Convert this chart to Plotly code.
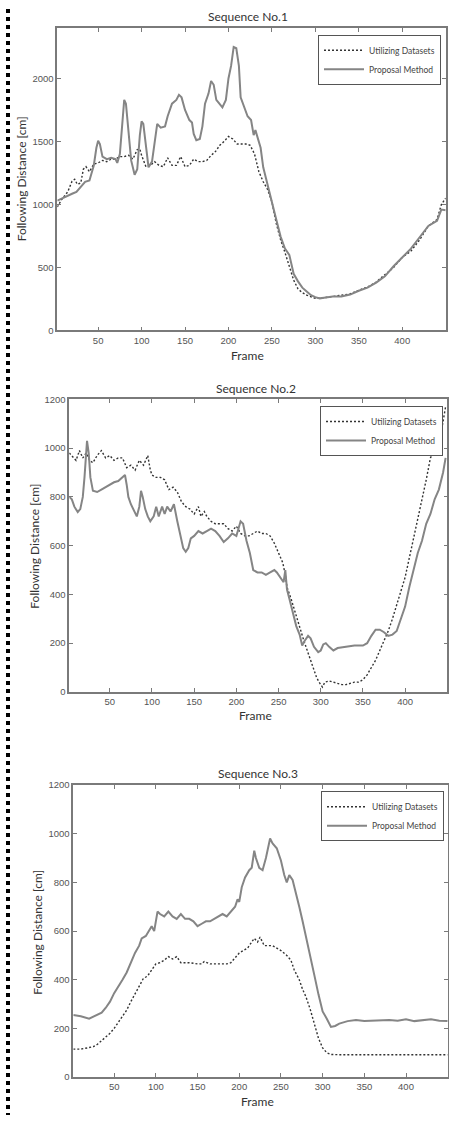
import plotly.graph_objects as go

W, H = 449, 1123

# ---------------- Sequence No.1 ----------------
s1_prop_f = [3, 10, 20, 25, 30, 35, 40, 45, 48, 50, 52, 55, 60, 65, 70, 72, 75, 78, 80, 82, 85, 88, 92, 95, 98, 100,
             102, 105, 108, 112, 115, 118, 122, 127, 130, 135, 140, 143, 146, 150, 155, 158, 160, 163, 167, 170, 173,
             177, 180, 183, 186, 190, 193, 197, 200, 203, 206, 209, 212, 214, 218, 222, 226, 229, 231, 233, 237, 240,
             245, 250, 255, 260, 265, 270, 275, 280, 285, 290, 295, 300, 305, 310, 320, 330, 340, 350, 360, 370, 380,
             390, 400, 410, 420, 430, 440, 445, 450]
s1_prop_v = [1030, 1050, 1085, 1100, 1140, 1180, 1190, 1310, 1450, 1505, 1480, 1380, 1360, 1370, 1360, 1330, 1400, 1700,
             1830, 1800, 1550, 1350, 1236, 1280, 1550, 1660, 1640, 1450, 1295, 1340, 1500, 1640, 1610, 1620, 1700, 1800,
             1830, 1870, 1850, 1750, 1670, 1650, 1560, 1510, 1520, 1620, 1800, 1880, 1980, 1950, 1830, 1800, 1770, 1830,
             2000, 2100, 2250, 2240, 2100, 1850, 1780, 1700, 1670, 1550, 1590, 1540, 1450, 1295, 1150, 1005, 880, 745,
             650, 600, 450, 390, 340, 310, 280, 265, 255, 260, 270, 270, 285, 315, 340, 380, 430, 510, 580, 650, 740,
             830, 870, 960, 955]
s1_data_f = [3, 8, 15, 20, 23, 26, 30, 33, 36, 40, 45, 50, 55, 60, 65, 70, 75, 80, 85, 90, 95, 98, 100, 105, 110, 115,
             120, 125, 130, 135, 140, 145, 150, 155, 160, 165, 170, 175, 180, 185, 190, 195, 200, 205, 210, 215, 220,
             225, 230, 235, 240, 245, 250, 255, 260, 265, 270, 275, 280, 285, 290, 295, 300, 310, 320, 330, 340, 350,
             360, 370, 380, 390, 400, 410, 420, 430, 440, 445, 450]
s1_data_v = [980, 1040, 1100, 1185, 1200, 1160, 1170, 1280, 1300, 1260, 1320, 1330, 1350, 1340, 1360, 1360, 1380, 1380,
             1390, 1360, 1435, 1440, 1390, 1300, 1310, 1340, 1310, 1300, 1370, 1310, 1310, 1380, 1300, 1310, 1360, 1340,
             1340, 1350, 1390, 1420, 1470, 1500, 1540, 1520, 1480, 1480, 1480, 1470, 1400, 1260, 1180, 1120, 1020, 850,
             720, 620, 500, 400, 330, 300, 280, 265, 255, 260, 270, 275, 290, 320, 345, 385, 440, 500, 580, 630, 720,
             830, 880, 1000, 1050]

# ---------------- Sequence No.2 ----------------
s2_prop_f = [2, 5, 8, 12, 15, 18, 20, 22, 23, 25, 27, 30, 35, 40, 45, 50, 55, 60, 65, 68, 70, 72, 75, 80, 82, 85, 87,
             89, 92, 95, 98, 102, 105, 108, 112, 115, 118, 122, 126, 130, 134, 137, 140, 143, 146, 150, 155, 160, 165,
             170, 175, 180, 185, 190, 195, 200, 205, 208, 212, 216, 220, 225, 230, 235, 240, 245, 248, 252, 256, 258,
             260, 263, 267, 271, 275, 278, 281, 285, 288, 292, 297, 300, 303, 306, 310, 315, 320, 330, 340, 350, 355,
             360, 365, 370, 375, 380, 385, 390, 395, 400, 405, 410, 415, 420, 425, 430, 435, 440, 445, 448]
s2_prop_v = [800, 790, 760, 738, 750, 800, 880, 1000, 1030, 980, 880, 825, 820, 830, 840, 850, 860, 865, 880, 890, 850,
             800, 770, 730, 720, 760, 825, 800, 750, 720, 700, 720, 760, 720, 760, 730, 760, 740, 770, 700, 640, 590,
             575, 590, 630, 640, 660, 650, 660, 670, 660, 640, 615, 630, 650, 640, 700, 690, 620, 570, 500, 490, 490,
             480, 490, 500, 490, 470, 450, 500, 420, 380, 320, 270, 235, 190, 210, 230, 220, 185, 163, 170, 195, 200,
             185, 170, 180, 185, 190, 190, 200, 230, 255, 255, 245, 230, 235, 250, 300, 350, 430, 500, 570, 620, 690,
             730, 790, 830, 900, 960]
s2_data_f = [2, 5, 8, 10, 14, 18, 22, 26, 30, 35, 40, 45, 50, 55, 60, 65, 70, 75, 80, 85, 90, 95, 98, 100, 105, 110,
             115, 120, 125, 130, 135, 140, 145, 150, 155, 158, 162, 165, 170, 175, 180, 185, 190, 195, 200, 205, 210,
             215, 220, 225, 230, 235, 240, 245, 250, 255, 258, 260, 265, 270, 275, 280, 285, 290, 295, 298, 302, 305,
             310, 315, 320, 325, 330, 335, 340, 345, 350, 355, 360, 365, 370, 375, 380, 385, 390, 395, 400, 405, 410,
             415, 420, 425, 430, 435, 440, 445, 448]
s2_data_v = [980, 970, 960, 950, 990, 960, 980, 950, 940, 970, 990, 960, 970, 950, 960, 960, 920, 930, 910, 950, 930,
             970, 910, 890, 880, 880, 870, 830, 840, 820, 780, 760, 750, 730, 760, 720, 740, 720, 700, 690, 690, 690,
             670, 660, 680, 650, 640, 640, 650, 660, 650, 650, 640, 610, 570, 530, 480, 430, 380, 320, 270, 210, 160,
             110, 60, 40, 20, 40, 45, 40, 35, 30, 30, 35, 40, 40, 50, 70, 100, 130, 170, 210, 250, 300, 360, 420, 470,
             550, 630, 700, 790, 870, 960, 990, 1010, 1120, 1170]

# ---------------- Sequence No.3 ----------------
s3_prop_f = [1, 10, 20, 25, 30, 35, 40, 45, 50, 55, 60, 65, 70, 75, 80, 83, 88, 92, 95, 98, 100, 102, 105, 110, 115,
             120, 125, 130, 135, 140, 145, 150, 155, 160, 165, 170, 175, 180, 185, 190, 195, 198, 200, 203, 207, 212,
             215, 218, 220, 224, 228, 232, 237, 240, 245, 250, 254, 257, 260, 264, 268, 272, 276, 280, 285, 290, 295,
             300, 305, 310, 315, 320, 330, 340, 350, 360, 370, 380, 390, 400, 410, 420, 430, 440, 450]
s3_prop_v = [255, 250, 240, 248, 255, 265, 285, 310, 345, 370, 400, 430, 470, 510, 540, 570, 580, 600, 620, 600, 640,
             680, 670, 660, 680, 660, 650, 670, 650, 650, 640, 620, 630, 640, 640, 650, 660, 670, 660, 680, 700, 730,
             720, 780, 820, 850, 860, 930, 900, 860, 850, 900, 980, 960, 940, 890, 830, 800, 830, 810, 760, 700, 640,
             580, 500, 420, 340, 270, 240, 206, 210, 220, 230, 235, 230, 232, 233, 235, 232, 238, 230, 235, 238, 232,
             230]
s3_data_f = [1, 10, 18, 25, 30, 35, 40, 45, 50, 55, 60, 65, 70, 75, 80, 85, 90, 95, 100, 105, 110, 115, 120, 125, 130,
             135, 140, 150, 155, 158, 165, 175, 185, 190, 195, 200, 205, 210, 215, 218, 222, 225, 230, 240, 250, 257,
             262, 266, 272, 276, 280, 285, 290, 295, 300, 305, 310, 320, 450]
s3_data_v = [115, 115, 120, 125, 135, 150, 165, 180, 200, 225, 255, 275, 310, 340, 370, 405, 415, 440, 465, 470, 480,
             495, 485, 495, 470, 470, 470, 465, 465, 475, 465, 465, 465, 470, 490, 510, 520, 530, 555, 570, 555, 575,
             540, 540, 520, 500, 480, 440, 400, 360, 330, 280, 220, 160, 120, 100, 93, 92, 92]

titles = ["Sequence No.1", "Sequence No.2", "Sequence No.3"]
names = ["Utilizing Datasets", "Proposal Method"]
x_ticks = [50, 100, 150, 200, 250, 300, 350, 400]

series = [
    (s1_data_f, s1_data_v, s1_prop_f, s1_prop_v),
    (s2_data_f, s2_data_v, s2_prop_f, s2_prop_v),
    (s3_data_f, s3_data_v, s3_prop_f, s3_prop_v),
]

# pixel boxes (left, right, top, bottom)
boxes = [(57.3, 445.7, 22.3, 327.7), (69.3, 447.3, 397.3, 692.7), (73.3, 447.7, 786.7, 1081.7)]
xranges = [[3, 450], [2, 450], [1, 450]]
yranges = [[0, 2400], [0, 1200], [0, 1200]]
dticks = [500, 200, 200]
title_pos = [(248, 11), (256, 386), (258, 775)]
xt_pos = [(247, 353), (255, 717), (257, 1106)]
yt_pos = [(21, 175), (35, 546), (38, 936)]
leg_pos = [(441, 29), (443, 404), (444, 793)]

LINE = "#7a7a7a"
TICKFONT = dict(family="Liberation Sans, Arial", size=9.5, color="#555")
LABFONT = dict(family="Lato, Open Sans", size=12, color="#333")

fig = go.Figure()
annotations = []
for i, (df, dv, pf, pv) in enumerate(series):
    ax = "" if i == 0 else str(i + 1)
    leg = "legend" if i == 0 else f"legend{i + 1}"
    fig.add_trace(go.Scatter(x=df, y=dv, mode="lines", name=names[0], xaxis="x" + ax, yaxis="y" + ax,
                             legend=leg, line=dict(color="#333333", width=1.4, dash="2px,2px")))
    fig.add_trace(go.Scatter(x=pf, y=pv, mode="lines", name=names[1], xaxis="x" + ax, yaxis="y" + ax,
                             legend=leg, line=dict(color="#858585", width=2)))
    l, r, t, b = boxes[i]
    xa = dict(domain=[l / W, r / W], range=xranges[i], tickvals=x_ticks, ticks="inside", ticklen=4,
              tickcolor=LINE, linecolor=LINE, linewidth=1.5, mirror="ticks", showgrid=False, zeroline=False,
              tickfont=TICKFONT, anchor="y" + ax, fixedrange=True)
    ya = dict(domain=[1 - b / H, 1 - t / H], range=yranges[i], dtick=dticks[i], tick0=0, ticks="inside", ticklen=4,
              tickcolor=LINE, linecolor=LINE, linewidth=1.5, mirror="ticks", showgrid=False, zeroline=False,
              tickfont=TICKFONT, anchor="x" + ax, fixedrange=True)
    fig.update_layout(**{"xaxis" + ax: xa, "yaxis" + ax: ya})
    lx, ly = leg_pos[i]
    fig.update_layout(**{leg: dict(x=lx / W, y=1 - ly / H, xanchor="right", yanchor="top",
                                   bordercolor="#555", borderwidth=1, bgcolor="white", itemwidth=40,
                                   font=dict(family="Lato, Open Sans", size=8.5, color="#444"))})
    tx, ty = title_pos[i]
    annotations.append(dict(text=titles[i], x=tx / W, y=1 - ty / H, xref="paper", yref="paper",
                            showarrow=False, font=LABFONT, xanchor="center", yanchor="middle"))
    fx, fy = xt_pos[i]
    annotations.append(dict(text="Frame", x=fx / W, y=1 - fy / H, xref="paper", yref="paper",
                            showarrow=False, font=LABFONT, xanchor="center", yanchor="middle"))
    gx, gy = yt_pos[i]
    annotations.append(dict(text="Following Distance [cm]", x=gx / W, y=1 - gy / H, xref="paper", yref="paper",
                            showarrow=False, font=LABFONT, xanchor="center", yanchor="middle", textangle=-90))

fig.update_layout(
    width=W, height=H, autosize=False,
    margin=dict(l=0, r=0, t=0, b=0),
    paper_bgcolor="white", plot_bgcolor="white",
    annotations=annotations,
    shapes=[dict(type="line", xref="paper", yref="paper", x0=8 / W, x1=8 / W, y0=1 - 3 / H, y1=1 - 1120 / H,
                 line=dict(color="black", width=4, dash="4px,4px"))],
)

fig.write_html("out.html", config={"displayModeBar": False},
               post_script="document.body.style.margin='0';document.body.style.overflow='hidden';")
